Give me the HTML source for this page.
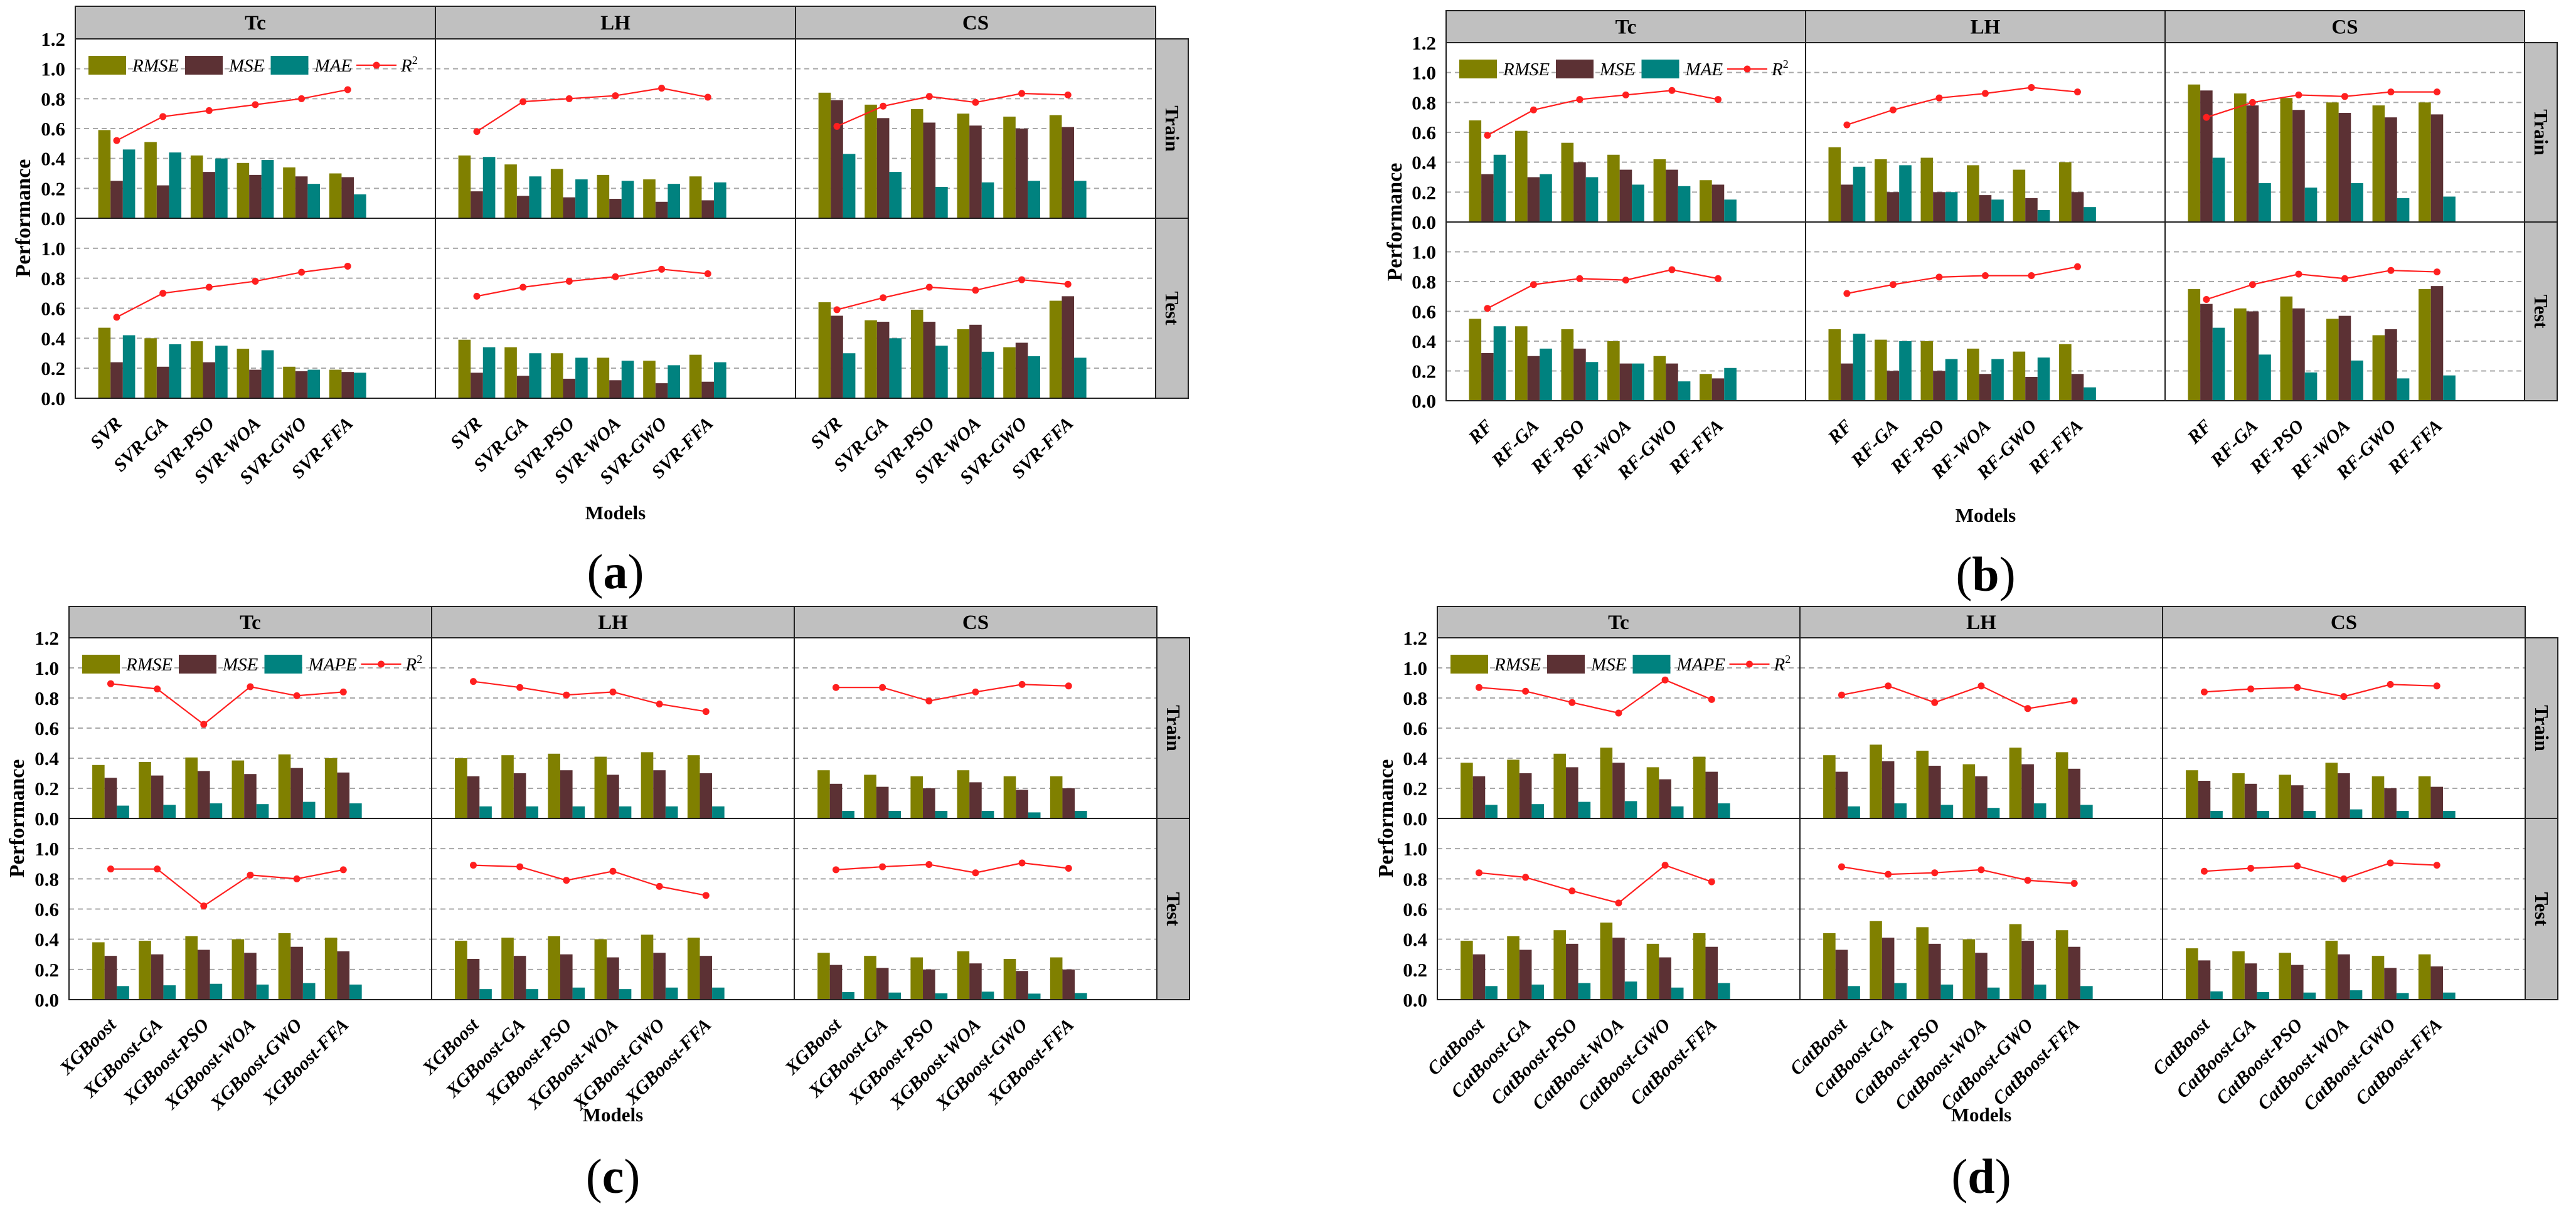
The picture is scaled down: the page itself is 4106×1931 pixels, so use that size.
<!DOCTYPE html>
<html><head><meta charset="utf-8"><style>
html,body{margin:0;padding:0;background:#fff;}
svg{display:block;font-family:"Liberation Serif",serif;}
</style></head><body>
<svg id="fig" width="4106" height="1931" viewBox="0 0 4106 1931" xmlns="http://www.w3.org/2000/svg"></svg>
<script>
// rows order: [Tc train, Tc test, LH train, LH test, CS train, CS test]
const facets = ['Tc','LH','CS'];
const rowsNames = ['Train','Test'];
const yTicks = [0,0.2,0.4,0.6,0.8,1.0,1.2];
const yTickLabels = ['0.0','0.2','0.4','0.6','0.8','1.0','1.2'];

const aModels = ['SVR','SVR-GA','SVR-PSO','SVR-WOA','SVR-GWO','SVR-FFA'];
const a_rmse = [[.59,.51,.42,.37,.34,.30],[.47,.40,.38,.33,.21,.19],[.42,.36,.33,.29,.26,.28],[.39,.34,.30,.27,.25,.29],[.84,.76,.73,.70,.68,.69],[.64,.52,.59,.46,.34,.65]];
const a_mse  = [[.25,.22,.31,.29,.28,.275],[.24,.21,.24,.19,.18,.175],[.18,.15,.14,.13,.11,.12],[.17,.15,.13,.12,.10,.11],[.79,.67,.64,.62,.60,.61],[.55,.51,.51,.49,.37,.68]];
const a_third= [[.46,.44,.40,.39,.23,.16],[.42,.36,.35,.32,.19,.17],[.41,.28,.26,.25,.23,.24],[.34,.30,.27,.25,.22,.24],[.43,.31,.21,.24,.25,.25],[.30,.40,.35,.31,.28,.27]];
const a_r2   = [[.52,.68,.72,.76,.80,.86],[.54,.70,.74,.78,.84,.88],[.58,.78,.80,.82,.87,.81],[.68,.74,.78,.81,.86,.83],[.615,.75,.815,.775,.835,.825],[.59,.67,.74,.72,.79,.76]];

const bModels = ['RF','RF-GA','RF-PSO','RF-WOA','RF-GWO','RF-FFA'];
const b_rmse = [[.68,.61,.53,.45,.42,.28],[.55,.50,.48,.40,.30,.18],[.50,.42,.43,.38,.35,.40],[.48,.41,.40,.35,.33,.38],[.92,.86,.83,.80,.78,.80],[.75,.62,.70,.55,.44,.75]];
const b_mse  = [[.32,.30,.40,.35,.35,.25],[.32,.30,.35,.25,.25,.15],[.25,.20,.20,.18,.16,.20],[.25,.20,.20,.18,.16,.18],[.88,.78,.75,.73,.70,.72],[.65,.60,.62,.57,.48,.77]];
const b_third= [[.45,.32,.30,.25,.24,.15],[.50,.35,.26,.25,.13,.22],[.37,.38,.20,.15,.08,.10],[.45,.40,.28,.28,.29,.09],[.43,.26,.23,.26,.16,.17],[.49,.31,.19,.27,.15,.17]];
const b_r2   = [[.58,.75,.82,.85,.88,.82],[.62,.78,.82,.81,.88,.82],[.65,.75,.83,.86,.90,.87],[.72,.78,.83,.84,.84,.90],[.70,.80,.85,.84,.87,.87],[.68,.78,.85,.82,.875,.865]];

const cModels = ['XGBoost','XGBoost-GA','XGBoost-PSO','XGBoost-WOA','XGBoost-GWO','XGBoost-FFA'];
const c_rmse = [[.355,.375,.405,.385,.425,.40],[.38,.39,.42,.40,.44,.41],[.40,.42,.43,.41,.44,.42],[.39,.41,.42,.40,.43,.41],[.32,.29,.28,.32,.28,.28],[.31,.29,.28,.32,.27,.28]];
const c_mse  = [[.27,.285,.315,.295,.335,.305],[.29,.30,.33,.31,.35,.32],[.28,.30,.32,.29,.32,.30],[.27,.29,.30,.28,.31,.29],[.23,.21,.20,.24,.19,.20],[.23,.21,.20,.24,.19,.20]];
const c_third= [[.085,.09,.10,.095,.11,.10],[.09,.095,.105,.10,.11,.10],[.08,.08,.08,.08,.08,.08],[.07,.07,.08,.07,.08,.08],[.05,.05,.05,.05,.04,.05],[.05,.047,.042,.053,.04,.044]];
const c_r2   = [[.895,.86,.625,.875,.815,.84],[.865,.865,.62,.825,.80,.86],[.91,.87,.82,.84,.76,.71],[.89,.88,.79,.85,.75,.69],[.87,.87,.78,.84,.89,.88],[.86,.88,.895,.84,.905,.87]];

const dModels = ['CatBoost','CatBoost-GA','CatBoost-PSO','CatBoost-WOA','CatBoost-GWO','CatBoost-FFA'];
const d_rmse = [[.37,.39,.43,.47,.34,.41],[.39,.42,.46,.51,.37,.44],[.42,.49,.45,.36,.47,.44],[.44,.52,.48,.40,.50,.46],[.32,.30,.29,.37,.28,.28],[.34,.32,.31,.39,.29,.30]];
const d_mse  = [[.28,.30,.34,.37,.26,.31],[.30,.33,.37,.41,.28,.35],[.31,.38,.35,.28,.36,.33],[.33,.41,.37,.31,.39,.35],[.25,.23,.22,.30,.20,.21],[.26,.24,.23,.30,.21,.22]];
const d_third= [[.09,.095,.11,.115,.08,.10],[.09,.10,.11,.12,.08,.11],[.08,.10,.09,.07,.10,.09],[.09,.11,.10,.08,.10,.09],[.05,.05,.05,.06,.05,.05],[.055,.05,.047,.062,.044,.047]];
const d_r2   = [[.87,.845,.77,.70,.92,.79],[.84,.81,.72,.64,.89,.78],[.82,.88,.77,.88,.73,.78],[.88,.83,.84,.86,.79,.77],[.84,.86,.87,.81,.89,.88],[.85,.87,.885,.80,.905,.89]];

const C_RMSE = '#808000', C_MSE = '#5c3134', C_THIRD = '#00827f', C_R2 = '#ff1f1f';
const NS = 'http://www.w3.org/2000/svg';
const svg = document.getElementById('fig');
function mk(tag, attrs, parent) {
  const e = document.createElementNS(NS, tag);
  for (const k in attrs) e.setAttribute(k, attrs[k]);
  (parent || svg).appendChild(e);
  return e;
}

const panels = [
  {id:'a', left:120, fw:574, st:10, sb:62, tb:348, xb:635, models:aModels, rmse:a_rmse, mse:a_mse, third:a_third, r2:a_r2, thirdName:'MAE', cx:981, modelsY:828, labY:938, yTitleX:40},
  {id:'b', left:2305, fw:573, st:17, sb:68, tb:354, xb:639, models:bModels, rmse:b_rmse, mse:b_mse, third:b_third, r2:b_r2, thirdName:'MAE', cx:3165, modelsY:832, labY:942, yTitleX:2226},
  {id:'c', left:110, fw:578, st:967, sb:1017, tb:1305, xb:1594, models:cModels, rmse:c_rmse, mse:c_mse, third:c_third, r2:c_r2, thirdName:'MAPE', cx:977, modelsY:1788, labY:1902, yTitleX:30},
  {id:'d', left:2291, fw:578, st:967, sb:1017, tb:1305, xb:1594, models:dModels, rmse:d_rmse, mse:d_mse, third:d_third, r2:d_r2, thirdName:'MAPE', cx:3158, modelsY:1788, labY:1902, yTitleX:2212}
];

panels.forEach(p => {
  const g = mk('g', {});
  
  
  const rowTop = [p.sb, p.tb];
  const rowBot = [p.tb, p.xb];
  const BW = 19.6, PITCH = p.fw * 0.1283, OFF = p.fw * 0.115;
  function yScale(v, r) { return rowBot[r] - v / 1.2 * (rowBot[r] - rowTop[r]); }
  function gx(f, i) { return p.left + f * p.fw + OFF + i * PITCH; }

  facets.forEach((fn, f) => {
    const fx = p.left + f * p.fw;
    const strip = mk('rect', {x:fx, y:p.st, width:p.fw, height:p.sb - p.st, fill:'#c0c0c0', stroke:'#222', 'stroke-width':2}, g);
    
    
    const st = mk('text', {x:fx + p.fw / 2, y:(p.st + p.sb) / 2 + 11, 'text-anchor':'middle', 'font-size':33, 'font-weight':'bold'}, g);
    st.textContent = fn;
    
    

    [0, 1].forEach(r => {
      const key = f * 2 + r;
      mk('rect', {x:fx, y:rowTop[r], width:p.fw, height:rowBot[r] - rowTop[r], fill:'#fff'}, g);
      for (let t = 1; t < 6; t++) {
        const gl = mk('line', {x1:fx, x2:fx + p.fw, y1:yScale(yTicks[t], r), y2:yScale(yTicks[t], r), stroke:'#a8a8a8', 'stroke-width':2, 'stroke-dasharray':'8,6'}, g);
        
        
      }
      const series = [[p.rmse, C_RMSE, 'rmse'], [p.mse, C_MSE, 'mse'], [p.third, C_THIRD, p.thirdName.toLowerCase()]];
      p.models.forEach((m, i) => {
        series.forEach((s, k) => {
          const v = s[0][key][i];
          const y = yScale(v, r);
          const b = mk('rect', {x:gx(f, i) - 1.5 * BW + k * BW, y:y, width:BW, height:rowBot[r] - y, fill:s[1]}, g);
          
          
        });
      });
      const pts = p.models.map((m, i) => gx(f, i) + ',' + yScale(p.r2[key][i], r)).join(' ');
      const pl = mk('polyline', {points:pts, fill:'none', stroke:C_R2, 'stroke-width':2.2}, g);
      
      
      p.models.forEach((m, i) => {
        const c = mk('circle', {cx:gx(f, i), cy:yScale(p.r2[key][i], r), r:5.5, fill:C_R2}, g);
        
        
      });
      mk('rect', {x:fx, y:rowTop[r], width:p.fw, height:rowBot[r] - rowTop[r], fill:'none', stroke:'#222', 'stroke-width':2}, g);
    });

    p.models.forEach((m, i) => {
      const x = gx(f, i) + 10, y = p.xb + 42;
      const t = mk('text', {x:x, y:y, 'text-anchor':'end', 'font-size':30, 'font-weight':'bold', 'font-style':'italic', transform:'rotate(-45 ' + x + ' ' + y + ')'}, g);
      t.textContent = m;
      
      
    });
  });

  const rx = p.left + 3 * p.fw;
  [0, 1].forEach(r => {
    const rs = mk('rect', {x:rx, y:rowTop[r], width:52, height:rowBot[r] - rowTop[r], fill:'#c0c0c0', stroke:'#222', 'stroke-width':2}, g);
    
    
    const cy = (rowTop[r] + rowBot[r]) / 2, cx = rx + 26;
    const t = mk('text', {x:cx, y:cy + 10, 'text-anchor':'middle', 'font-size':31, 'font-weight':'bold', transform:'rotate(90 ' + cx + ' ' + cy + ')'}, g);
    t.textContent = rowsNames[r];
    
    
  });

  [0, 1].forEach(r => {
    yTicks.forEach((v, t) => {
      if (r === 1 && t === 6) return;
      const y = yScale(v, r);
      const tl = mk('text', {x:p.left - 16, y:y + 11, 'text-anchor':'end', 'font-size':31, 'font-weight':'bold'}, g);
      tl.textContent = yTickLabels[t];
      
      
    });
  });
  const yt = mk('text', {x:p.yTitleX, y:p.tb, 'text-anchor':'middle', 'font-size':34, 'font-weight':'bold', transform:'rotate(-90 ' + p.yTitleX + ' ' + p.tb + ')', 'dominant-baseline':'middle'}, g);
  yt.textContent = 'Performance';
  
  

  const xt = mk('text', {x:p.cx, y:p.modelsY, 'text-anchor':'middle', 'font-size':31, 'font-weight':'bold'}, g);
  xt.textContent = 'Models';
  
  

  const pl = mk('text', {x:p.cx, y:p.labY, 'text-anchor':'middle', 'font-size':78}, g);
  
  
  const t1 = mk('tspan', {}, pl); t1.textContent = '(';
  const t2 = mk('tspan', {'font-weight':'bold'}, pl); t2.textContent = p.id;
  const t3 = mk('tspan', {}, pl); t3.textContent = ')';

  const lg = mk('g', {}, g);
  
  
  const ly = p.sb + 42;
  let lx = p.left + 21;
  const items = [['RMSE', C_RMSE], ['MSE', C_MSE], [p.thirdName, C_THIRD]];
  items.forEach(it => {
    const e = mk('g', {}, lg);
    
    
    mk('rect', {x:lx, y:ly - 15, width:60, height:30, fill:it[1]}, e);
    const tx = mk('text', {x:lx + 70, y:ly + 10, 'font-size':29, 'font-style':'italic'}, e);
    tx.textContent = it[0];
    lx += 70 + (it[0].length * 17.5) + 14;
  });
  const e = mk('g', {}, lg);
  
  
  mk('line', {x1:lx, x2:lx + 64, y1:ly, y2:ly, stroke:C_R2, 'stroke-width':2.2}, e);
  mk('circle', {cx:lx + 32, cy:ly, r:5.5, fill:C_R2}, e);
  const rt = mk('text', {x:lx + 71, y:ly + 10, 'font-size':29, 'font-style':'italic'}, e);
  rt.textContent = 'R';
  const sup = mk('tspan', {dy:-12, 'font-size':18, 'font-style':'normal'}, rt);
  sup.textContent = '2';
});
</script>
</body></html>
